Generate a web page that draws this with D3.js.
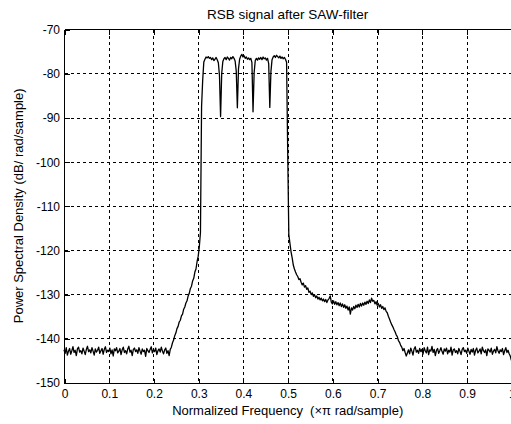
<!DOCTYPE html>
<html>
<head>
<meta charset="utf-8">
<script src="https://cdn.jsdelivr.net/npm/d3@7"></script>
<style>
  html, body { margin: 0; padding: 0; background: #fff; }
  svg { display: block; }
  text { font-family: "Liberation Sans", Arial, Helvetica, sans-serif; fill: #000; white-space: pre; }
</style>
</head>
<body>
<svg id="chart" width="511" height="424"></svg>
<script>
// ---------------- data ----------------
const titleText = "RSB signal after SAW-filter";
const xLabelText = "Normalized Frequency  (\u00d7\u03c0 rad/sample)";
const yLabelText = "Power Spectral Density (dB/ rad/sample)";

const xTicks = [0, 0.1, 0.2, 0.3, 0.4, 0.5, 0.6, 0.7, 0.8, 0.9, 1];
const xTickLabels = ["0", "0.1", "0.2", "0.3", "0.4", "0.5", "0.6", "0.7", "0.8", "0.9", "1"];
const yTicks = [-150, -140, -130, -120, -110, -100, -90, -80, -70];
const yTickLabels = ["-150", "-140", "-130", "-120", "-110", "-100", "-90", "-80", "-70"];

const freqStep = 0.0025; // PSD bin spacing (normalized frequency)

// noise floor below the band, bins from 0 to 0.2375
const lowFloorStart = 0;
const lowFloor = [
  -142.6,-143.4,-142.1,-143.8,-142.9,-142.3,-143.6,-142.8,-141.9,-143.2,
  -142.7,-143.9,-142.4,-142.0,-143.1,-142.8,-143.5,-142.2,-142.9,-143.7,
  -142.5,-141.8,-143.0,-142.6,-143.3,-142.1,-142.9,-143.8,-142.4,-143.1,
  -142.7,-142.0,-143.4,-142.8,-142.3,-143.6,-142.5,-141.9,-143.2,-142.7,
  -143.0,-142.2,-143.5,-142.6,-144.0,-142.4,-142.8,-142.1,-143.3,-142.9,
  -142.3,-143.7,-142.6,-142.0,-143.2,-142.8,-143.5,-142.4,-141.8,-143.1,
  -142.7,-143.9,-142.5,-142.2,-143.0,-142.6,-143.4,-142.1,-142.9,-143.6,
  -142.4,-143.0,-142.7,-144.1,-142.3,-142.8,-143.2,-142.5,-141.9,-143.3,
  -142.6,-143.0,-142.2,-143.7,-142.8,-142.4,-143.1,-142.0,-142.9,-143.5,
  -142.6,-142.2,-143.4,-142.8,-143.9,-142.5
];

// lower filter skirt, bins from 0.24 to 0.31
const lowSkirtStart = 0.24;
const lowSkirt = [
  -142.0,-141.0,-140.4,-139.4,-138.8,-137.8,-137.3,-136.3,-135.9,-134.9,
  -134.5,-133.4,-132.9,-132.0,-131.5,-130.4,-129.8,-128.7,-128.2,-127.0,
  -126.4,-125.0,-124.3,-122.6,-121.4,-119.2,-116.0,-87.5,-81.5
];

// pass band with carrier notches, bins from 0.3125 to 0.4975
const passbandStart = 0.3125;
const passband = [
  -77.4,-76.8,-76.3,-76.5,-76.2,-76.6,-76.4,-76.9,-76.5,-77.1,
  -76.8,-76.4,-76.9,-77.6,-80.5,-89.8,-80.0,-77.3,-76.7,-76.4,
  -76.9,-76.3,-76.6,-77.0,-76.4,-76.7,-76.2,-76.6,-77.2,-79.5,
  -87.8,-79.0,-76.8,-76.1,-75.7,-76.3,-76.0,-76.6,-76.3,-76.8,
  -76.5,-76.9,-76.6,-77.5,-88.7,-79.8,-77.1,-76.6,-77.0,-76.5,
  -76.8,-76.4,-76.9,-76.3,-76.7,-76.5,-77.0,-76.6,-77.8,-87.7,
  -79.6,-76.9,-76.3,-76.0,-76.4,-75.9,-76.2,-76.5,-76.1,-76.6,
  -76.3,-76.7,-76.4,-76.8,-77.5
];

// upper filter skirt and shoulder, bins from 0.5 to 0.7675
const highSkirtStart = 0.5;
const highSkirt = [
  -97.5,-116.5,-118.5,-120.4,-121.8,-123.4,-124.3,-125.0,-125.6,-126.0,
  -126.7,-126.5,-127.3,-127.9,-127.5,-128.4,-128.1,-128.9,-128.6,-129.6,
  -129.3,-130.1,-129.7,-130.5,-130.1,-130.8,-130.4,-131.1,-130.7,-131.3,
  -130.9,-131.5,-131.1,-131.7,-131.2,-131.9,-131.3,-131.0,-130.4,-131.8,
  -132.2,-131.5,-132.3,-131.7,-132.4,-131.9,-132.6,-132.0,-132.8,-132.2,
  -133.0,-132.4,-133.2,-132.7,-133.6,-132.9,-134.5,-133.1,-133.6,-132.8,
  -133.3,-132.5,-133.0,-132.3,-132.9,-132.1,-132.7,-132.0,-132.5,-131.8,
  -132.3,-131.6,-132.1,-131.3,-131.9,-130.9,-131.6,-131.4,-132.2,-131.7,
  -132.5,-132.1,-132.9,-132.4,-133.2,-132.8,-133.5,-133.1,-133.9,-134.2,
  -135.0,-135.6,-136.3,-136.9,-137.4,-138.0,-138.5,-139.2,-139.6,-140.5,
  -140.9,-141.6,-142.0,-142.8,-142.3,-143.2,-144.0,-143.3
];

// noise floor above the band, bins from 0.77 to 1
const highFloorStart = 0.77;
const highFloor = [
  -142.6,-143.5,-142.2,-142.9,-143.8,-142.4,-141.9,-143.1,-142.7,-143.4,
  -142.3,-143.0,-142.5,-143.6,-142.1,-142.8,-143.3,-142.0,-143.7,-142.6,
  -142.9,-141.8,-143.2,-142.5,-143.9,-142.7,-142.3,-143.4,-142.8,-142.1,
  -143.0,-143.6,-142.4,-142.9,-142.2,-143.5,-142.7,-143.1,-142.0,-143.8,
  -142.6,-142.4,-143.2,-142.8,-143.5,-142.3,-142.9,-143.7,-142.5,-142.1,
  -143.0,-142.7,-143.4,-142.2,-142.9,-143.6,-142.5,-143.1,-142.3,-143.8,
  -142.7,-142.2,-143.3,-142.9,-142.4,-143.5,-142.0,-142.8,-143.2,-142.6,
  -143.9,-142.4,-142.7,-143.1,-142.2,-143.6,-142.9,-142.5,-143.3,-141.9,
  -142.8,-143.4,-142.6,-143.0,-142.3,-143.7,-142.8,-142.1,-143.2,-142.7,
  -143.5,-144.0,-145.0
];

// ---------------- build the series ----------------
const segments = [
  [lowFloorStart, lowFloor],
  [lowSkirtStart, lowSkirt],
  [passbandStart, passband],
  [highSkirtStart, highSkirt],
  [highFloorStart, highFloor]
];
const series = [];
segments.forEach(([start, vals]) => {
  vals.forEach((v, i) => series.push({ f: start + i * freqStep, db: v }));
});

// ---------------- layout ----------------
const W = 511, H = 424;
const plotLeft = 64, plotRight = 511.4, plotTop = 29.2, plotBottom = 382.5;

const svg = d3.select("#chart");
const x = d3.scaleLinear().domain([0, 1]).range([plotLeft, plotRight]);
const y = d3.scaleLinear().domain([-150, -70]).range([plotBottom, plotTop]);
const px = v => Math.round(v) + 0.5;

// grid
const grid = svg.append("g").attr("stroke", "#000").attr("stroke-width", 1)
  .attr("stroke-dasharray", "3,3").attr("shape-rendering", "crispEdges");
grid.selectAll("line.gx").data(xTicks.filter(t => t > 0 && t < 1)).join("line")
  .attr("x1", d => px(x(d))).attr("x2", d => px(x(d)))
  .attr("y1", px(y(-70))).attr("y2", px(y(-150)));
grid.selectAll("line.gy").data(yTicks.filter(t => t > -150 && t < -70)).join("line")
  .attr("x1", px(x(0))).attr("x2", W)
  .attr("y1", d => px(y(d))).attr("y2", d => px(y(d)));

// spectrum trace
const line = d3.line().x(d => x(d.f)).y(d => y(d.db));
svg.append("path").datum(series)
  .attr("fill", "none").attr("stroke", "#000").attr("stroke-width", 1.3)
  .attr("stroke-linejoin", "round")
  .attr("d", line);

// axes (box without right edge, ticks inside)
const xAxisB = d3.axisBottom(x).tickValues(xTicks).tickFormat((d, i) => xTickLabels[i])
  .tickSizeInner(-5).tickSizeOuter(0).tickPadding(9);
const xAxisT = d3.axisTop(x).tickValues(xTicks).tickFormat("")
  .tickSizeInner(-5).tickSizeOuter(0);
const yAxisL = d3.axisLeft(y).tickValues(yTicks).tickFormat((d, i) => yTickLabels[i])
  .tickSizeInner(-5).tickSizeOuter(0).tickPadding(5);

function styleAxis(g) {
  g.select(".domain").remove();
  g.selectAll(".tick line").attr("stroke", "#000").attr("shape-rendering", "crispEdges");
  g.selectAll(".tick text").attr("font-size", "12px").attr("fill", "#000")
    .attr("font-family", "'Liberation Sans', Arial, sans-serif");
}
const gxB = svg.append("g").attr("transform", `translate(0.5,${px(plotBottom)})`).call(xAxisB).call(styleAxis);
gxB.selectAll(".tick text").attr("dy", null).attr("y", 14.5);
svg.append("g").attr("transform", `translate(0.5,${px(plotTop)})`).call(xAxisT).call(styleAxis);
const gyL = svg.append("g").attr("transform", `translate(${px(plotLeft)},0.5)`).call(yAxisL).call(styleAxis);
gyL.selectAll(".tick text").attr("x", -4.5);

// frame lines
const frame = svg.append("g").attr("stroke", "#000").attr("stroke-width", 1).attr("shape-rendering", "crispEdges");
frame.append("line").attr("x1", px(plotLeft)).attr("x2", W).attr("y1", px(plotTop)).attr("y2", px(plotTop));
frame.append("line").attr("x1", px(plotLeft)).attr("x2", W).attr("y1", px(plotBottom)).attr("y2", px(plotBottom));
frame.append("line").attr("x1", px(plotLeft)).attr("x2", px(plotLeft)).attr("y1", px(plotTop)).attr("y2", px(plotBottom));

// titles
svg.append("text").attr("x", (plotLeft + plotRight) / 2).attr("y", 19)
  .attr("text-anchor", "middle").attr("font-size", "13.5px").text(titleText);
svg.append("text").attr("x", (plotLeft + plotRight) / 2).attr("y", 415)
  .attr("text-anchor", "middle").attr("font-size", "13px").text(xLabelText);
svg.append("text").attr("transform", `translate(22.5,${(plotTop + plotBottom) / 2}) rotate(-90)`)
  .attr("text-anchor", "middle").attr("font-size", "13px").text(yLabelText);
</script>
</body>
</html>
